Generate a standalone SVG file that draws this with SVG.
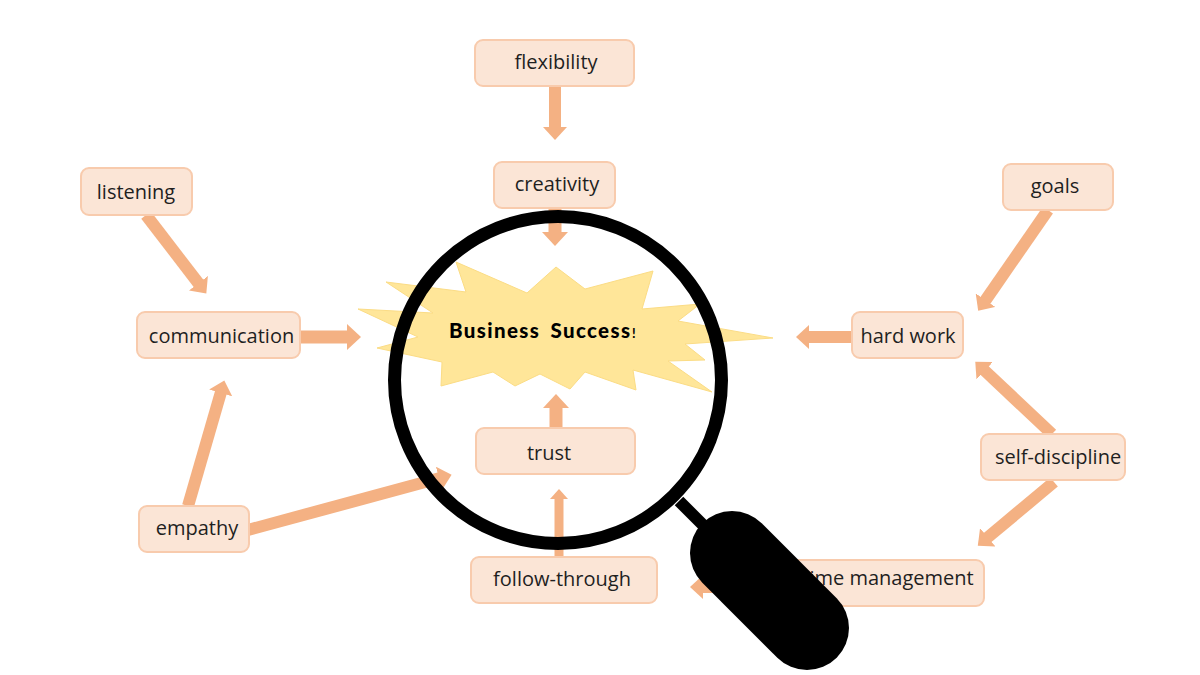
<svg xmlns="http://www.w3.org/2000/svg" width="1200" height="675" viewBox="0 0 1200 675">
<style>
.box{fill:#fbe5d6;stroke:#f8cbad;stroke-width:2}
.lbl{font-family:"Open Sans","Noto Sans",sans-serif;font-size:20px;fill:#1f1f1f;text-anchor:middle}
.arr{fill:none;stroke:#f4b183;stroke-width:12;marker-end:url(#head)}
.wide{stroke-width:13;marker-end:url(#headL)}
.slim{stroke-width:9;marker-end:url(#headS)}
.title{font-family:Lato,"Open Sans",sans-serif;font-weight:900;font-size:20.500px;fill:#000;word-spacing:4px}
</style>
<defs>
<marker id="head" markerUnits="userSpaceOnUse" markerWidth="14" markerHeight="24" refX="1" refY="12" orient="auto"><path d="M0,0L13,12L0,24z" fill="#f4b183"/></marker>
<marker id="headL" markerUnits="userSpaceOnUse" markerWidth="15" markerHeight="26" refX="1" refY="13" orient="auto"><path d="M0,0L14,13L0,26z" fill="#f4b183"/></marker>
<marker id="headS" markerUnits="userSpaceOnUse" markerWidth="11" markerHeight="18" refX="1" refY="9" orient="auto"><path d="M0,0L10,9L0,18z" fill="#f4b183"/></marker>
</defs>
<rect width="1200" height="675" fill="#fff"/>
<g id="burst"><polygon points="456,262 466,292 386,282 433,313 358,309 418,337 377,348 442,362 441,386 493,372 515,386 540,374 570,389 585,372 636,390 633,370 712,392 668,361 705,360 685,344 773,338 678,321 700,304 642,309 653,271 585,289 556,267 527,293" fill="#ffe699" stroke="#fbdc85" stroke-width="1"/>
<text class="title" x="449" y="338" textLength="181" lengthAdjust="spacing">Business Success</text><text x="632" y="338" font-family="Lato,sans-serif" font-size="13" font-weight="700">!</text></g>
<g id="connectors">
<line class="arr" x1="555" y1="87" x2="555" y2="128"/>
<line class="arr wide" x1="555" y1="208" x2="555" y2="233"/>
<line class="arr" x1="146" y1="215" x2="199" y2="284"/>
<line class="arr wide" x1="301" y1="337" x2="348" y2="337"/>
<line class="arr" x1="188" y1="506" x2="221" y2="392"/>
<line class="arr" x1="248" y1="530" x2="440" y2="478"/>
<line class="arr wide" x1="556" y1="429" x2="556" y2="407"/>
<line class="arr slim" x1="559" y1="558" x2="559" y2="498"/>
<line class="arr" x1="852" y1="337" x2="808" y2="337"/>
<line class="arr" x1="1048" y1="210" x2="985" y2="301"/>
<line class="arr" x1="1052" y1="434" x2="984" y2="370"/>
<line class="arr" x1="1054" y1="482" x2="987" y2="538"/>
<line class="arr" x1="760" y1="587" x2="702" y2="587"/>
</g>
<g id="lens"><circle cx="558" cy="380" r="163.500" fill="none" stroke="#000" stroke-width="13"/></g>
<g id="flexibility"><rect class="box" x="475" y="40" width="159" height="46" rx="8"/><text class="lbl" x="556" y="69">flexibility</text></g>
<g id="creativity"><rect class="box" x="494" y="162" width="121" height="46" rx="8"/><text class="lbl" x="557" y="191">creativity</text></g>
<g id="listening"><rect class="box" x="81" y="168" width="111" height="47" rx="8"/><text class="lbl" x="136" y="199">listening</text></g>
<g id="communication"><rect class="box" x="137" y="312" width="163" height="46" rx="8"/><text class="lbl" x="221.500" y="343">communication</text></g>
<g id="empathy"><rect class="box" x="139" y="506" width="110" height="46" rx="8"/><text class="lbl" x="197" y="535">empathy</text></g>
<g id="trust"><rect class="box" x="476" y="428" width="159" height="46" rx="8"/><text class="lbl" x="549" y="460">trust</text></g>
<g id="follow-through"><rect class="box" x="471" y="557" width="186" height="46" rx="8"/><text class="lbl" x="562" y="586">follow-through</text></g>
<g id="hard-work"><rect class="box" x="852" y="312" width="111" height="46" rx="8"/><text class="lbl" x="908" y="343">hard work</text></g>
<g id="goals"><rect class="box" x="1003" y="164" width="110" height="46" rx="8"/><text class="lbl" x="1055" y="193">goals</text></g>
<g id="self-discipline"><rect class="box" x="981" y="434" width="144" height="46" rx="8"/><text class="lbl" x="1058" y="464">self-discipline</text></g>
<g id="time-management"><rect class="box" x="780" y="560" width="204" height="46" rx="8"/><text class="lbl" x="888" y="585">time management</text></g>
<g id="magnifier-handle"><line x1="679" y1="501" x2="712" y2="534" stroke="#000" stroke-width="12"/><line x1="732" y1="553" x2="807" y2="628" stroke="#000" stroke-width="84" stroke-linecap="round"/></g>
</svg>
